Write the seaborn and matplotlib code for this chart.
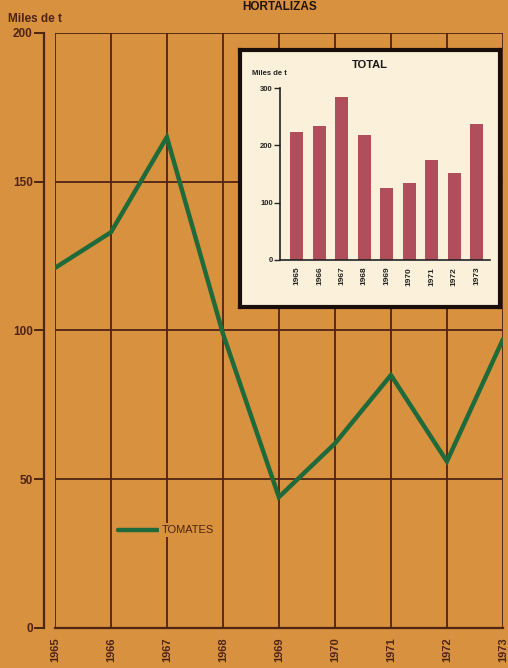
import numpy as np
import pandas as pd
import matplotlib
matplotlib.use("Agg")
import matplotlib.pyplot as plt
import seaborn as sns

# Data
years = [1965, 1966, 1967, 1968, 1969, 1970, 1971, 1972, 1973]
tomates = [121, 133, 165, 99, 44, 62, 85, 56, 97]
total = [223, 234, 284, 218, 126, 135, 174, 151, 237]
main_yticks = [0, 50, 100, 150, 200]
inset_yticks = [0, 100, 200, 300]

bg = "#D8913F"
brown = "#4E2414"
green = "#1F6A3A"
bar_color = "#B04E5C"
inset_bg = "#FBF0DA"

sns.set_theme(style="white")
plt.rcParams["font.family"] = ["Liberation Sans", "DejaVu Sans"]
plt.rcParams["font.weight"] = "bold"

fig = plt.figure(figsize=(5.08, 6.68), dpi=100, facecolor=bg)

# Main chart
ax = fig.add_axes([0.108, 0.0599, 0.882, 0.8907], facecolor=bg)
df = pd.DataFrame({"year": years, "value": tomates})
sns.lineplot(data=df, x="year", y="value", ax=ax, color=green, linewidth=3.2,
             zorder=3, solid_joinstyle="miter")
ax.set_xlim(1965, 1973)
ax.set_ylim(0, 200)
for yr in years:
    ax.axvline(yr, color=brown, linewidth=1.3, zorder=1)
for v in main_yticks[1:]:
    ax.axhline(v, color=brown, linewidth=1.3, zorder=1)
for s in ["top", "right"]:
    ax.spines[s].set_visible(False)
ax.spines["bottom"].set_color(brown)
ax.spines["bottom"].set_linewidth(1.6)
ax.spines["left"].set_position(("outward", 8))
ax.spines["left"].set_color(brown)
ax.spines["left"].set_linewidth(1.6)
ax.set_yticks(main_yticks)
ax.set_yticklabels([str(v) for v in main_yticks], fontsize=8.5, color=brown,
                   fontweight="bold")
ax.tick_params(axis="y", direction="out", length=7, width=1.4, color=brown,
               left=True, pad=1)
ax.set_xticks(years)
ax.set_xticklabels([str(y) for y in years], rotation=90, fontsize=8,
                   color=brown, fontweight="bold")
ax.tick_params(axis="x", length=0, pad=7)
ax.set_xlabel("")
ax.set_ylabel("")

fig.text(0.016, 0.972, "Miles de t", fontsize=8.5, color=brown,
         fontweight="bold", ha="left", va="center")
fig.text(0.55, 0.998, "HORTALIZAS", fontsize=8.5, color="#1E120C",
         fontweight="bold", ha="center", va="top")

# Legend
fig.add_artist(plt.Line2D([0.232, 0.312], [0.207, 0.207], color=green,
                          linewidth=3.2))
fig.text(0.318, 0.207, "TOMATES", fontsize=8, color=brown, ha="left",
         va="center", fontweight="normal",
         bbox=dict(facecolor=bg, edgecolor="none", pad=1.5))

# Inset box
box = fig.add_axes([0.472, 0.540, 0.512, 0.385], facecolor=inset_bg)
box.set_xticks([])
box.set_yticks([])
for s in box.spines.values():
    s.set_color("#1A0E0A")
    s.set_linewidth(3)

# Inset bar chart
ins = fig.add_axes([0.551, 0.611, 0.413, 0.257], facecolor="none")
tdf = pd.DataFrame({"year": [str(y) for y in years], "value": total})
sns.barplot(data=tdf, x="year", y="value", ax=ins, color=bar_color,
            width=0.58, saturation=1, linewidth=0)
ins.set_xlim(-0.76, 8.58)
ins.set_ylim(0, 300)
for s in ["top", "right"]:
    ins.spines[s].set_visible(False)
ins.spines["left"].set_color("#222222")
ins.spines["bottom"].set_color("#222222")
ins.spines["left"].set_linewidth(1.2)
ins.spines["bottom"].set_linewidth(1.2)
ins.set_yticks(inset_yticks)
ins.set_yticklabels([str(v) for v in inset_yticks], fontsize=5.5,
                    color="#222222")
ins.tick_params(axis="y", direction="out", length=4, width=1, left=True,
                pad=1)
ins.set_xticks(range(len(years)))
ins.set_xticklabels([str(y) for y in years], rotation=90, fontsize=6,
                    color="#222222")
ins.tick_params(axis="x", length=0, pad=5)
ins.set_xlabel("")
ins.set_ylabel("")

fig.text(0.496, 0.890, "Miles de t", fontsize=5.5, color="#222222",
         ha="left", va="center")
fig.text(0.728, 0.903, "TOTAL", fontsize=8, color="#1A1A1A",
         fontweight="bold", ha="center", va="center")

fig.savefig("out.png", dpi=100, facecolor=bg)
